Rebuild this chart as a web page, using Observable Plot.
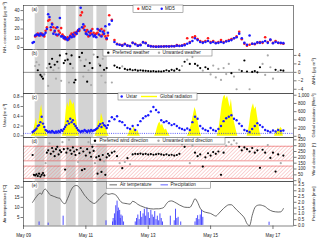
<!DOCTYPE html>
<html>
<head>
<meta charset="utf-8">
<script src="https://cdn.jsdelivr.net/npm/d3@7"></script>
<script src="https://cdn.jsdelivr.net/npm/@observablehq/plot@0.6"></script>
<style>
html, body { margin: 0; padding: 0; background: #fff; }
#chart { position: relative; width: 320px; height: 242px; overflow: hidden; background: #fff; }
#chart svg { position: absolute; left: 0; top: 0; }
#chart svg, #chart svg text { font-family: "Liberation Sans", Arial, Helvetica, sans-serif !important; }
</style>
</head>
<body>
<div id="chart"></div>
<script>
// ---------------- DATA ----------------
const startISO = "2013-05-09T00:00:00Z";

// measurement times, hours after May 09 00:00
const hours = [
  7,8,9,10,11,12,13,14,15,16,
  17,18,19,20,21,22,23,24,25,26,
  27,28,29,30,31,32,33,34,35,36,
  37,38,39,40,41,42,43,44,45,46,
  47,48,49,50,51,52,53,54,55,56,
  57,58,59,60,61,62,63,64,65,
  66,68,70,72,74,76,78,80,82,84,
  86,88,90,92,94,96,98,100,102,104,
  106,108,110,112,114,116,118,120,122,124,
  126,128,130,132,134,136,138,140,142,144,
  146,148,150,152,154,156,158,160,162,164,
  166,168,170,172,174,176,178,180,182,184,
  186,188,190,192,194,196,198,200
];

// (a) NH3 concentration, µg m-3
const md2 = [
  null,null,12,13,15,14,13,15,14,12,
  18,22,29,30,19,26,22,17,21,13,
  18,16,21,14,12,9,10,11,9,13,
  15,12,16,14,17,19,18,35,38,21,
  23,17,19,12,16,15,20,16,14,15,
  16,19,13,20,14,18,12,9,13,
  35,30,8,4,3,2.5,4,2,1.5,5,
  4,2,3,6,5,2,1.5,1,1,1,
  1.1,1.2,1.3,1.2,1.5,1.4,2.5,1.8,2.2,3.5,
  10,6,11,12,9,7,6,7,10,6,
  7,5,6,8,6,7,8,9,10,12,
  17,9,4,2,3,4,3.5,5,6,5,
  11,6,8,5,7,5,4.5,4
];
const md5 = [
  5,6,13,14,14,13,15,14,13,14,
  16,20,36,33,22,25,15,18,14,22,
  14,32,12,12,10,11,9,8,10,12,
  11,14,12,16,15,18,20,43,22,25,
  19,15,14,17,13,18,14,12,13,11,
  20,14,18,12,17,15,23,10,16,
  25,29,6,3.5,3,2,3.5,2,1.5,5,
  3.5,2,2.5,5.5,4.5,2,1.2,1,0.8,0.9,
  1,1.1,1.2,1.1,1.4,1.3,2,1.6,2,2.5,
  4,5,7,10,8,6,5,6,7,5,
  6,4.5,5,6,5,6.5,7,8,10,11,
  15,10,5,3,13,4,4,5.5,5,6,
  7,5,8.5,4.5,6,5,5,4.7
];

// (b) ΔNH3, µg m-3, and weather class (1 = preferred, 0 = unwanted)
const dNH3 = [
  null,null,1.5,2.4,0.5,1.8,-0.6,-1.0,-1.5,-0.5,
  null,1.0,-3.2,2.0,1.2,3.2,0.5,1.8,-1.5,2.5,
  1.0,4.0,-2.0,null,2.2,2.8,4.4,3.0,-2.4,2.0,
  4.0,1.0,-2.4,-1.8,null,null,3.6,2.8,4.6,-1.0,
  1.5,3.0,-2.2,0.5,2.2,-3.0,1.0,4.2,null,null,
  3.6,2.0,1.6,-0.8,3.2,0.6,-2.4,1.0,null,
  null,-2.4,1.6,1.2,1.0,1.4,0.8,0.6,0.7,0.5,
  0.6,0.4,0.5,0.4,0.35,0.3,0.25,0.3,0.2,0.25,
  0.2,0.3,0.5,0.3,0.6,0.4,0.8,0.5,1.5,2.5,
  3.0,2.0,3.6,2.0,1.6,1.0,0.4,1.2,0.8,-0.5,
  1.6,-1.2,0.8,-1.8,1.0,-0.4,2.0,-0.2,-1.0,-4.0,
  0.6,0.3,2.8,0.2,-4.0,0.1,0.3,0.0,1.2,2.0,
  -0.6,4.0,1.2,-1.5,0.6,0.2,0.5,0.4
];
const prefWeather = [
  0,0,0,0,1,0,1,1,1,0,
  0,0,0,1,1,1,0,1,0,1,
  0,1,0,0,1,1,1,1,0,1,
  1,0,1,1,0,0,1,0,1,0,
  1,0,1,0,1,0,1,0,0,0,
  1,0,1,0,0,1,0,1,0,
  0,0,1,1,1,0,1,1,1,1,
  1,1,1,1,1,1,1,1,1,1,
  1,1,1,1,1,1,1,1,0,1,
  0,1,0,1,1,1,0,1,1,0,
  0,0,0,0,0,0,0,1,0,0,
  0,1,1,1,0,1,1,1,1,0,
  0,0,0,0,1,0,1,1
];

// (c) friction velocity, m s-1
const ustar = [
  0.08,0.1,0.12,0.15,0.2,0.22,0.28,0.39,0.25,0.18,
  0.12,0.1,0.08,0.09,0.07,0.1,0.08,0.06,0.09,0.07,
  0.1,0.08,0.12,0.1,0.14,0.18,0.22,0.3,0.25,0.35,
  0.28,0.32,0.24,0.2,0.16,0.12,0.1,0.08,0.1,0.09,
  0.12,0.1,0.08,0.11,0.09,0.12,0.1,0.11,0.12,0.14,
  0.16,0.2,0.24,0.18,0.26,0.22,0.2,0.16,0.22,
  0.3,0.38,0.34,0.4,0.3,0.28,0.22,0.16,0.14,0.2,
  0.12,0.22,0.3,0.36,0.4,0.42,0.5,0.59,0.53,0.48,
  0.32,0.28,0.3,0.26,0.22,0.24,0.2,0.16,0.14,0.12,
  0.15,0.12,0.28,0.39,0.35,0.2,0.15,0.12,0.1,0.16,
  0.12,0.1,0.14,0.2,0.3,0.36,0.39,0.42,0.35,0.32,
  0.25,0.2,0.12,0.1,0.08,0.14,0.2,0.26,0.22,0.18,
  0.12,0.1,0.08,0.11,0.09,0.12,0.1,0.11
];
const ustarThreshold = 0.05;

// (d) wind direction, degrees
const windDir = [
  220,50,45,55,40,60,35,50,65,45,
  150,240,260,320,230,280,250,210,270,290,
  225,260,245,330,270,95,240,275,350,260,
  230,285,250,220,265,160,235,280,90,250,
  100,215,270,330,240,205,290,255,150,200,
  60,210,180,75,220,165,50,200,230,
  215,240,250,210,150,107,160,193,140,225,
  230,228,232,226,230,224,228,222,226,230,
  225,220,226,218,222,215,220,230,310,290,
  320,150,300,240,210,225,121,200,235,215,
  245,230,250,50,240,300,330,310,345,320,
  290,260,285,270,250,280,240,260,110,265,
  240,305,195,240,78,225,150,215
];
const windBandLow = [170, 20];
const windBandHigh = [295, 125];

// (e) air temperature, °C
const airTemp = [
  12.5,13.5,14.5,15.3,16.2,16.8,17,16.5,17.8,18.8,
  19,18.3,17.5,16.5,16,15.8,15.5,15.3,15,14.8,
  14.6,14.5,13.5,12.5,12,11.8,13,14.5,16,17.8,
  19,20,20.5,20.8,20.8,20.5,19.8,19,18,17,
  16,15.3,14.5,13.8,13.2,12.8,12.3,12,12,12.5,
  13.3,13.8,14.5,15.3,15.8,16.5,17,16.8,16.5,
  16.5,16.8,16.5,15.5,13.5,12.3,12,11.8,11.6,13,
  12.5,11.5,10.8,10.3,9.8,9.5,9.3,9.2,9.3,9.3,
  9.5,10,11.8,13,13.2,12.7,12,11.2,10.6,10.1,
  10,10,11.8,14.3,12.5,9.6,8.2,7.6,7.3,7,
  6.3,5.7,6.8,8.2,9.5,10.6,11.3,11.3,10.2,8.8,
  7.6,6.3,4.8,2,1,6,9.8,11,11.2,10.9,
  10.4,9.3,8.5,8,7.8,7.7,7.8,9.4
];

// (c) global radiation, W m-2
const radHours = [
  6,7,8,9,10,11,12,13,14,15,16,17,18,19,
  30,31,32,33,34,35,36,37,38,39,40,41,42,43,
  55,56,57,58,59,60,61,62,63,64,65,66,
  80,81,82,83,84,85,86,87,88,89,90,
  101,102,103,104,105,106,107,108,109,110,111,112,113,
  126,127,128,129,130,131,132,133,134,135,136,137,
  149,150,151,152,153,154,155,156,157,158,159,160,161,162,163,164,165,
  172,173,174,175,176,177,178,179,180,181,182,183,
  193,194,195,196,197,198,199,200
];
const radWm2 = [
  0,50,150,300,450,220,380,620,770,420,260,150,60,0,
  0,100,300,650,820,700,910,840,760,830,600,380,120,0,
  0,100,250,400,300,560,450,300,200,150,50,0,
  0,50,150,200,120,230,180,100,150,60,0,
  0,80,200,300,350,250,300,200,150,180,100,40,0,
  0,50,150,250,400,550,700,600,420,250,100,0,
  0,100,300,550,800,950,1000,900,980,850,700,900,600,400,250,120,0,
  0,100,300,550,700,790,650,720,500,300,100,0,
  0,60,120,200,150,220,180,0
];

// (e) precipitation, mm
const precipHours = [12,19,30.5,63.5,68.5,69,70,70.5,71,72,72.5,73,74,74.5,75,76,77,
  86,87,88,89,90,91,92,93,94,95,96,97,98,99,100,101,102,103,104,105,106,107,
  113,116,117,118,119,121,132,133,134,135,136,137,138,189];
const precipMm = [0.3,0.2,0.8,0.4,0.3,0.6,1.0,0.4,1.7,2.1,1.2,1.5,1.3,0.6,0.9,0.8,0.3,
  0.3,0.6,0.9,0.5,1.2,0.7,1.0,1.4,0.8,1.5,1.1,0.6,1.3,0.9,0.7,1.2,0.5,0.8,0.4,1.0,0.6,0.3,
  0.8,0.4,1.4,0.6,0.7,0.3,0.3,0.6,0.84,0.5,0.9,1.3,0.7,0.28];

// shaded measurement periods (hours)
const shadeStart = [9, 18.5, 33, 42.5, 56.5];
const shadeEnd = [16.5, 29, 40.5, 54, 64.5];

// axis ticks and labels
const concTicks = [0, 10, 20, 30, 40];
const dTicks = [-4, -2, 0, 2, 4];
const ustarTicks = [0, 0.2, 0.4, 0.6, 0.8];
const radTicks = [0, 200, 400, 600, 800, 1000];
const windTicks = [0, 50, 100, 150, 200, 250, 300, 350];
const tempTicks = [5, 10, 15, 20];
const precipTicks = [0, 0.5, 1, 1.5, 2, 2.5, 3, 3.5];
const xTickHours = [0, 48, 96, 144, 192];
const xTickLabels = ["May 09", "May 11", "May 13", "May 15", "May 17"];
const xEndHour = 207.8;

// ---------------- LAYOUT ----------------
const FONT = "'Liberation Sans', Arial, Helvetica, sans-serif";
const W = 320, H = 242, ML = 23, MR = 27;
const panelTop = [5, 49, 93, 137, 181];
const panelBottom = [49, 93, 137, 181, 225.5];
const chart = document.getElementById("chart");
const toDate = h => new Date(Date.parse(startISO) + h * 3600000);

const rows = hours.map((h, i) => ({
  date: toDate(h), md2: md2[i], md5: md5[i], dnh3: dNH3[i], pref: prefWeather[i],
  ustar: ustar[i], wind: windDir[i], temp: airTemp[i]
}));
const shade = shadeStart.map((s, i) => ({start: toDate(s), end: toDate(shadeEnd[i])}));
const rad = radHours.map((h, i) => ({date: toDate(h), v: radWm2[i]}));
const precip = precipHours.map((h, i) => ({date: toDate(h), v: precipMm[i]}));
const bands = windBandLow.map((lo, i) => ({lo, hi: windBandHigh[i]}));
const inBand = w => bands.some(b => w >= b.lo && w <= b.hi);
const xTickDates = xTickHours.map(toDate);

const xScale = {type: "utc", domain: [toDate(0), toDate(xEndHour)], axis: null};
function base(i) {
  return {
    width: W, height: H, marginLeft: ML, marginRight: MR,
    marginTop: panelTop[i], marginBottom: H - panelBottom[i],
    style: {background: "transparent", overflow: "visible", fontFamily: FONT, fontSize: "4.5px", color: "#222"},
    x: xScale
  };
}
const add = svg => chart.appendChild(svg);
const shadeMark = () => Plot.rect(shade, {x1: "start", x2: "end", fill: "#d3d3d3"});
const frameMark = () => Plot.frame({stroke: "#333", strokeWidth: 0.6});
const leftAx = {anchor: "left", tickSize: 2.5, tickPadding: 1.5, label: null, strokeWidth: 0.6, fontSize: 4.5};
const rightAx = {anchor: "right", tickSize: 2.5, tickPadding: 2, label: null, strokeWidth: 0.6, fontSize: 4.5};
const leftTitle = t => Plot.text([t], {text: d => d, frameAnchor: "left", dx: -18.5, rotate: -90, fontSize: 4.3, textAnchor: "middle", lineAnchor: "middle", fill: "#222"});
const rightTitle = t => Plot.text([t], {text: d => d, frameAnchor: "right", dx: 20.5, rotate: -90, fontSize: 4.3, textAnchor: "middle", lineAnchor: "middle", fill: "#222"});
const panelTag = t => Plot.text([t], {text: d => d, frameAnchor: "top-left", dx: 11, dy: 3.8, fontSize: 4.5, textAnchor: "middle", lineAnchor: "middle", fill: "#222", stroke: "white", strokeWidth: 2.6, paintOrder: "stroke"});
const f1 = d3.format(".1f");

// (a)
add(Plot.plot({...base(0), y: {domain: [-2.2, 45.5], axis: null}, marks: [
  shadeMark(),
  Plot.dot(rows, {x: "date", y: "md2", r: 1.3, fill: "#ff1a1a"}),
  Plot.dot(rows, {x: "date", y: "md5", r: 1.3, fill: "#1a1aff"}),
  Plot.axisY(concTicks, leftAx),
  frameMark(),
  panelTag("(a)"),
  leftTitle("NH₃ concentration [µg m⁻³]")
]}));

// (b)
add(Plot.plot({...base(1), y: {domain: [-5, 5.4], axis: null}, marks: [
  shadeMark(),
  Plot.ruleY([0], {stroke: "#444", strokeWidth: 0.6}),
  Plot.dot(rows.filter(d => d.pref === 0), {x: "date", y: "dnh3", r: 1.1, fill: "#a9a9a9"}),
  Plot.dot(rows.filter(d => d.pref === 1), {x: "date", y: "dnh3", r: 1.1, fill: "#000"}),
  Plot.axisY(dTicks, rightAx),
  frameMark(),
  panelTag("(b)"),
  rightTitle("ΔNH₃ [µg m⁻³]")
]}));

// (c) radiation (right axis) behind, ustar (left axis) on top
add(Plot.plot({...base(2), y: {domain: [-29, 1042], axis: null}, marks: [
  shadeMark(),
  Plot.areaY(rad, {x: "date", y1: 0, y2: "v", fill: "#ffff00"}),
  Plot.axisY(radTicks, rightAx),
  rightTitle("Global radiation [Wm⁻²]")
]}));
add(Plot.plot({...base(2), y: {domain: [-0.034, 0.866], axis: null}, marks: [
  Plot.ruleY([ustarThreshold], {stroke: "#1a1aff", strokeWidth: 0.7, strokeDasharray: "1,1.2"}),
  Plot.dot(rows, {x: "date", y: "ustar", r: 1.2, fill: "#1a1aff"}),
  Plot.axisY(ustarTicks, {...leftAx, tickFormat: f1}),
  frameMark(),
  panelTag("(c)"),
  leftTitle("Ustar [m s⁻¹]")
]}));

// (d)
const hatchDefs = () => {
  const defs = d3.create("svg:defs");
  const p = defs.append("pattern").attr("id", "hatchRed").attr("patternUnits", "userSpaceOnUse")
    .attr("width", 2.6).attr("height", 2.6).attr("patternTransform", "rotate(45)");
  p.append("line").attr("x1", 0).attr("y1", 0).attr("x2", 0).attr("y2", 2.6)
    .attr("stroke", "#f08080").attr("stroke-width", 0.7);
  return defs.node();
};
add(Plot.plot({...base(3), y: {domain: [-7, 370], axis: null}, marks: [
  shadeMark(),
  hatchDefs,
  Plot.rect(bands, {y1: "lo", y2: "hi", fill: "url(#hatchRed)"}),
  Plot.ruleY(bands.flatMap(b => [b.lo, b.hi]), {stroke: "#e85050", strokeWidth: 0.6}),
  Plot.dot(rows.filter(d => !inBand(d.wind)), {x: "date", y: "wind", r: 1.1, fill: "#a9a9a9"}),
  Plot.dot(rows.filter(d => inBand(d.wind)), {x: "date", y: "wind", r: 1.1, fill: "#000"}),
  Plot.axisY(windTicks, rightAx),
  frameMark(),
  panelTag("(d)"),
  rightTitle("Wind direction [°]")
]}));

// (e) precipitation (right) behind, temperature (left) on top
add(Plot.plot({...base(4), y: {domain: [-0.05, 3.8], axis: null}, marks: [
  shadeMark(),
  Plot.ruleX(precip, {x: "date", y1: 0, y2: "v", stroke: "#3a3aff", strokeWidth: 0.9}),
  Plot.axisY(precipTicks, {...rightAx, tickFormat: f1}),
  rightTitle("Precipitation [mm]")
]}));
add(Plot.plot({...base(4), y: {domain: [0.8, 22.8], axis: null}, marks: [
  Plot.line(rows, {x: "date", y: "temp", stroke: "#444", strokeWidth: 0.8, curve: "monotone-x"}),
  Plot.axisY(tempTicks, leftAx),
  Plot.axisX(xTickDates, {anchor: "bottom", tickSize: 3.5, tickPadding: 4.5, label: null, strokeWidth: 0.6, fontSize: 4.5,
    tickFormat: d => xTickLabels[xTickDates.findIndex(t => +t === +d)]}),
  frameMark(),
  panelTag("(e)"),
  leftTitle("Air temperature [°C]")
]}));

// ---------------- LEGENDS ----------------
const legends = [
  {x: 133, y: 5, w: 50, h: 7.5, items: [
    {kind: "dot", color: "#ff1a1a", x: 138.3, tx: 141.5, label: "MD2"},
    {kind: "dot", color: "#1a1aff", x: 161.7, tx: 165, label: "MD5"}]},
  {x: 103, y: 49.3, w: 109, h: 6.7, items: [
    {kind: "dot", color: "#000", x: 108.3, tx: 112.5, label: "Preferred weather"},
    {kind: "dot", color: "#a9a9a9", x: 159, tx: 162.5, label: "Unwanted weather"}]},
  {x: 118, y: 93, w: 79, h: 7, items: [
    {kind: "dot", color: "#1a1aff", x: 121.7, tx: 126, label: "Ustar"},
    {kind: "line", color: "#ffff00", x: 141, x2: 157, tx: 160, label: "Global radiation", sw: 1.4}]},
  {x: 90.7, y: 137.3, w: 134.3, h: 6.8, items: [
    {kind: "dot", color: "#000", x: 95, tx: 99.5, label: "Preferred wind direction"},
    {kind: "dot", color: "#a9a9a9", x: 158.5, tx: 162.5, label: "Unwanted wind direction"}]},
  {x: 106.7, y: 181.5, w: 104, h: 6.7, items: [
    {kind: "line", color: "#444", x: 109.5, x2: 117, tx: 120, label: "Air temperature", sw: 0.8},
    {kind: "line", color: "#3a3aff", x: 160.5, x2: 168, tx: 170.5, label: "Precipitation", sw: 0.8}]}
];
const lg = d3.create("svg").attr("width", W).attr("height", H)
  .style("font-family", FONT).style("font-size", "4.6px");
legends.forEach(L => {
  const g = lg.append("g");
  g.append("rect").attr("x", L.x).attr("y", L.y).attr("width", L.w).attr("height", L.h)
    .attr("fill", "white").attr("stroke", "#666").attr("stroke-width", 0.5);
  const cy = L.y + L.h / 2;
  L.items.forEach(it => {
    if (it.kind === "dot") g.append("circle").attr("cx", it.x).attr("cy", cy).attr("r", 1.2).attr("fill", it.color);
    else g.append("line").attr("x1", it.x).attr("x2", it.x2).attr("y1", cy).attr("y2", cy)
      .attr("stroke", it.color).attr("stroke-width", it.sw);
    g.append("text").attr("x", it.tx).attr("y", cy).attr("dy", "0.35em").attr("fill", "#222").text(it.label);
  });
});
chart.appendChild(lg.node());
</script>
</body>
</html>
